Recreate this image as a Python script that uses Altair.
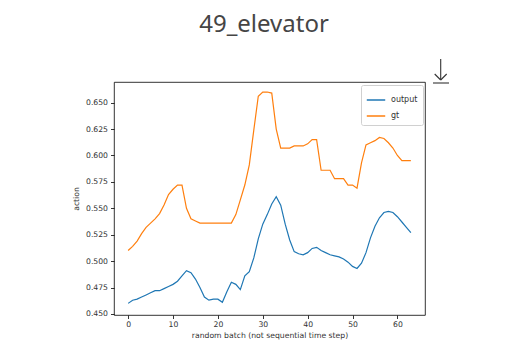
import altair as alt
import pandas as pd

steps = list(range(64))
output_vals = [0.460, 0.463, 0.464, 0.466, 0.468, 0.470, 0.472, 0.472, 0.474, 0.476,
               0.478, 0.481, 0.486, 0.491, 0.489, 0.483, 0.475, 0.466, 0.463, 0.464,
               0.464, 0.461, 0.471, 0.480, 0.478, 0.473, 0.486, 0.490, 0.503, 0.521,
               0.535, 0.544, 0.554, 0.561, 0.553, 0.535, 0.520, 0.509, 0.507, 0.506,
               0.508, 0.512, 0.513, 0.510, 0.508, 0.506, 0.505, 0.504, 0.502, 0.499,
               0.495, 0.493, 0.498, 0.508, 0.522, 0.533, 0.541, 0.546, 0.547, 0.546,
               0.542, 0.537, 0.532, 0.527]
gt_vals = [0.510, 0.514, 0.519, 0.526, 0.532, 0.536, 0.540, 0.545, 0.553, 0.563,
           0.568, 0.572, 0.572, 0.550, 0.540, 0.538, 0.536, 0.536, 0.536, 0.536,
           0.536, 0.536, 0.536, 0.536, 0.544, 0.558, 0.572, 0.591, 0.624, 0.656,
           0.660, 0.660, 0.659, 0.625, 0.607, 0.607, 0.607, 0.609, 0.609, 0.609,
           0.611, 0.615, 0.615, 0.586, 0.586, 0.586, 0.578, 0.578, 0.578, 0.572,
           0.572, 0.569, 0.593, 0.610, 0.612, 0.614, 0.617, 0.616, 0.612, 0.607,
           0.600, 0.595, 0.595, 0.595]
series_names = ["output", "gt"]
series_colors = ["#1f77b4", "#ff7f0e"]
x_ticks = [0, 10, 20, 30, 40, 50, 60]
y_ticks = [0.450, 0.475, 0.500, 0.525, 0.550, 0.575, 0.600, 0.625, 0.650]
page_title = "49_elevator"

df = pd.DataFrame({
    "step": steps * 2,
    "value": output_vals + gt_vals,
    "series": [series_names[0]] * len(steps) + [series_names[1]] * len(steps),
})

FONT = "DejaVu Sans"

lines = alt.Chart(df).mark_line(strokeWidth=1.2).encode(
    x=alt.X("step:Q",
            scale=alt.Scale(domain=[-3.15, 66.15], nice=False, zero=False),
            axis=alt.Axis(values=x_ticks, title="random batch (not sequential time step)",
                          titlePadding=3, labelPadding=2, format="d")),
    y=alt.Y("value:Q",
            scale=alt.Scale(domain=[0.449, 0.6695], nice=False, zero=False),
            axis=alt.Axis(values=y_ticks, format=".3f", title="action",
                          titlePadding=5, labelPadding=3)),
    color=alt.Color("series:N",
                    scale=alt.Scale(domain=series_names, range=series_colors),
                    legend=alt.Legend(title=None, orient="none", legendX=247, legendY=3,
                                      symbolType="stroke", symbolSize=340,
                                      symbolStrokeWidth=1.5, labelFontSize=8,
                                      labelFont=FONT, labelColor="#333",
                                      strokeColor="#d0d0d0", fillColor="white",
                                      padding=5, cornerRadius=2, rowPadding=2,
                                      labelOffset=5)),
)

title_mark = alt.Chart(pd.DataFrame({"t": [page_title]})).mark_text(
    fontSize=24, font="Noto Sans", color="#454545", align="center", baseline="middle"
).encode(text="t:N", x=alt.value(150), y=alt.value(-57))

ARROW = "#333333"
arrow_shaft = alt.Chart(pd.DataFrame({"a": [0]})).mark_rule(color=ARROW, strokeWidth=1.1).encode(
    x=alt.value(326.7), y=alt.value(-23), y2=alt.value(-2))
arrow_left = alt.Chart(pd.DataFrame({"a": [0]})).mark_rule(color=ARROW, strokeWidth=1.1).encode(
    x=alt.value(320.7), x2=alt.value(326.7), y=alt.value(-8), y2=alt.value(-2))
arrow_right = alt.Chart(pd.DataFrame({"a": [0]})).mark_rule(color=ARROW, strokeWidth=1.1).encode(
    x=alt.value(332.7), x2=alt.value(326.7), y=alt.value(-8), y2=alt.value(-2))
arrow_line = alt.Chart(pd.DataFrame({"a": [0]})).mark_rule(color=ARROW, strokeWidth=1.1).encode(
    x=alt.value(319), x2=alt.value(335), y=alt.value(1))

chart = alt.layer(lines, title_mark, arrow_shaft, arrow_left, arrow_right, arrow_line).properties(
    width=311, height=233,
    autosize=alt.AutoSizeParams(type="none"),
    padding={"left": 114, "top": 82, "right": 103, "bottom": 38},
    background="white",
).configure_view(
    stroke="black", strokeWidth=0.8
).configure_axis(
    domain=False, tickColor="black", tickSize=3.5, tickWidth=0.8,
    labelFont=FONT, labelFontSize=7.7, labelColor="#333",
    titleFont=FONT, titleFontSize=7.7, titleColor="#333", titleFontWeight="normal",
    grid=False,
)

chart.save("out.html", embed_options={"renderer": "svg", "actions": False})
